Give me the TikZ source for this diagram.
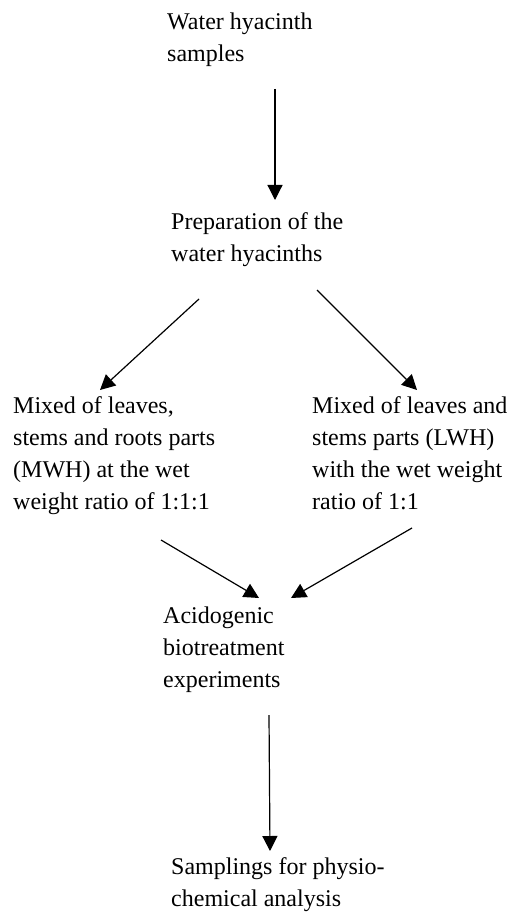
\documentclass[tikz,border=0pt]{standalone}
\usepackage{fontspec}
\setmainfont{Liberation Serif}
\usetikzlibrary{arrows.meta,calc}

\tikzset{
  txt/.style={anchor=base west, inner sep=0pt, align=left, font=\fontsize{24}{32}\selectfont},
  flow/.style={-{Triangle[length=15pt,width=15pt]}, line width=1.2pt}
}

\begin{document}
\begin{tikzpicture}[x=1pt,y=-1pt]
\useasboundingbox (0,0) rectangle (509,912);

% Etapas
\node [txt] (water) at (167,62) {Water hyacinth\\samples};
\node [txt] (prep) at (171,261) {Preparation of the\\water hyacinths};
\node [txt] (mwh) at (13,509) {Mixed of leaves,\\stems and roots parts\\(MWH) at the wet\\weight ratio of 1:1:1};
\node [txt] (lwh) at (312,509) {Mixed of leaves and\\stems parts (LWH)\\with the wet weight\\ratio of 1:1};
\node [txt] (acid) at (163,687) {Acidogenic\\biotreatment\\experiments};
\node [txt] (samp) at (171,906) {Samplings for physio-\\chemical analysis};

% Flechas
\draw [flow] ($(water.base west)+(108,27)$) -- ($(prep.base west)+(104,-61)$);
\draw [flow] ($(prep.base west)+(28,38)$) -- ($(mwh.base west)+(87,-119)$);
\draw [flow] ($(prep.base west)+(146,29)$) -- ($(lwh.base west)+(105,-119)$);
\draw [flow] ($(mwh.base west)+(148,31)$) -- ($(acid.base west)+(96,-89)$);
\draw [flow] ($(lwh.base west)+(100,19)$) -- ($(acid.base west)+(128,-89)$);
\draw [flow] ($(acid.base west)+(106,28)$) -- ($(samp.base west)+(99,-55)$);
\end{tikzpicture}
\end{document}
